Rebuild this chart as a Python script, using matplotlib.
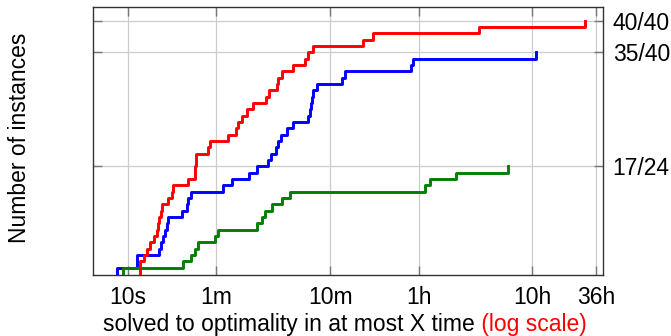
import matplotlib
matplotlib.use("Agg")
import matplotlib.pyplot as plt
import numpy as np

plt.rcParams['font.family'] = ['Liberation Sans', 'DejaVu Sans']

# times (seconds) at which each instance was solved
red_times = [12.8, 12.8, 13.9, 14.9, 15.7, 17.0, 18.0, 18.4, 18.7, 19.5, 19.9, 22.7,
             24.5, 25.2, 34.1, 39.0, 39.0, 39.8, 39.8, 51.1, 52.9, 76.6, 88.6, 93.2,
             100, 111, 127, 163, 175.5, 204, 210.6, 225.6, 282, 358, 386, 428,
             1161, 1439, 12290, 104300]
blue_times = [8.0, 12.0, 12.0, 18.8, 19.6, 20.6, 21.3, 22.0, 22.7, 30.0, 33.0, 34.1,
              36.0, 69.2, 82.5, 115.7, 137.4, 172, 179.8, 201, 207.2, 220.1, 251, 285.3,
              384, 400, 405.7, 414, 425, 456, 764, 804, 3105, 3234, 38710]
green_times = [9.06, 30.8, 35.8, 39.0, 41.7, 58.5, 62.6, 136, 150.5, 160.9, 186, 228.3,
               266.8, 4099, 4487, 7672, 22110]

xtick_vals = [10, 60, 600, 3600, 36000, 129600]
xtick_labels = ['10s', '1m', '10m', '1h', '10h', '36h']
ytick_vals = [17, 35, 40]
ytick_labels = ['17/24', '35/40', '40/40']
ytick_colors = ['black', 'black', 'red']

W, H = 671, 336
fig = plt.figure(figsize=(W / 100, H / 100), dpi=100)
ax = fig.add_axes([93 / W, 1 - 275 / H, (603 - 93) / W, (275 - 7) / H])

FS = 16.5

def steps(times):
    x = [times[0]] + list(times)
    y = [0] + list(range(1, len(times) + 1))
    return x, y

for times, col in [(blue_times, '#0000ff'), (green_times, '#008000'), (red_times, '#ff0000')]:
    x, y = steps(times)
    ax.plot(x, y, drawstyle='steps-post', color=col, lw=2.1, zorder=3)

ax.set_xscale('log')
ax.set_xlim(4.95, 150000)
ax.set_ylim(-0.17, 42.16)

ax.set_xticks(xtick_vals)
ax.set_xticklabels(xtick_labels)
ax.xaxis.set_minor_locator(matplotlib.ticker.NullLocator())
ax.set_yticks(ytick_vals)
ax.set_yticklabels(ytick_labels)
for lab, c in zip(ax.get_yticklabels(), ytick_colors):
    lab.set_color(c)

ax.tick_params(axis='x', which='both', direction='in', top=True, bottom=True,
               length=6.5, width=1, color='#777777', labelsize=FS, pad=8)
ax.tick_params(axis='y', which='both', direction='in', left=True, right=True,
               labelleft=False, labelright=True, length=6.5, width=1,
               color='#777777', labelsize=FS, pad=7)

ax.grid(True, color='#cccccc', lw=0.9, zorder=0)
ax.set_axisbelow(True)
for s in ax.spines.values():
    s.set_color('#333333')
    s.set_linewidth(1.0)

fig.text(20 / W, 1 - 138 / H, 'Number of instances', rotation=90,
         ha='center', va='center', fontsize=FS)

t1 = fig.text(103 / W, 1 - 335.5 / H, 'solved to optimality in at most X time',
              ha='left', va='bottom', fontsize=FS)
fig.canvas.draw()
ann = ax.annotate(' (log scale)', xy=(1, 0), xycoords=t1, ha='left', va='bottom',
                  fontsize=FS, color='red', annotation_clip=False)

fig.savefig('out.png', dpi=100)
